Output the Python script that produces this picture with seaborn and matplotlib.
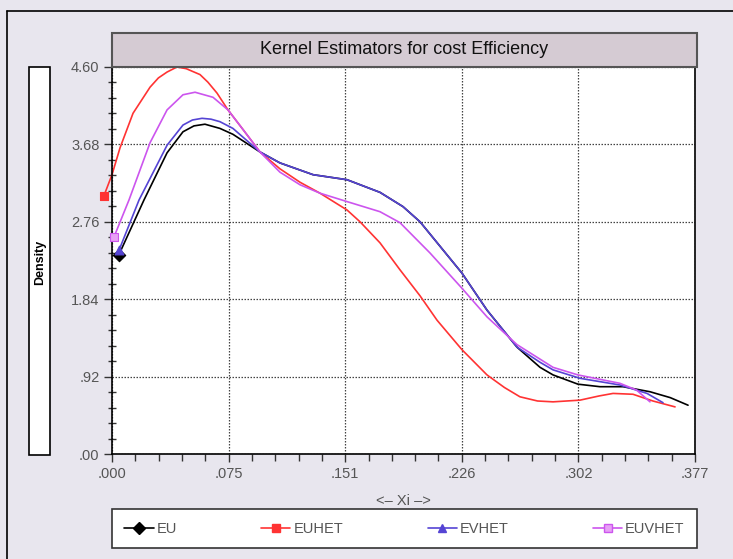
import pandas as pd
import seaborn as sns
import matplotlib.pyplot as plt
from matplotlib.patches import Rectangle
from matplotlib.lines import Line2D
from matplotlib.legend_handler import HandlerLine2D
from matplotlib.ticker import MultipleLocator

# Kernel density curves
eu_x = [0.0045, 0.0207, 0.0356, 0.0459, 0.0530, 0.0601, 0.0698, 0.0782, 0.0957, 0.1086,
        0.130, 0.152, 0.1733, 0.1882, 0.1992, 0.2263, 0.2425, 0.2619, 0.2768, 0.2852,
        0.3013, 0.3155, 0.3304, 0.3479, 0.3610, 0.3725]
eu_y = [2.37, 3.02, 3.58, 3.83, 3.90, 3.92, 3.87, 3.80, 3.59, 3.46,
        3.32, 3.26, 3.11, 2.94, 2.76, 2.15, 1.71, 1.27, 1.03, 0.94,
        0.83, 0.80, 0.80, 0.74, 0.67, 0.58]

euhet_x = [-0.0052, 0.000, 0.0052, 0.0136, 0.0246, 0.030, 0.0356, 0.042, 0.048, 0.0569,
           0.062, 0.0679, 0.075, 0.0850, 0.0957, 0.1086, 0.1216, 0.1345, 0.152, 0.1604,
           0.1733, 0.1862, 0.1992, 0.2102, 0.2263, 0.2425, 0.2538, 0.2638, 0.2752, 0.2852,
           0.3026, 0.315, 0.324, 0.3369, 0.3498, 0.3641]
euhet_y = [3.07, 3.32, 3.64, 4.05, 4.36, 4.47, 4.54, 4.60, 4.58, 4.51,
           4.42, 4.29, 4.09, 3.85, 3.59, 3.39, 3.23, 3.10, 2.90, 2.76,
           2.51, 2.19, 1.88, 1.59, 1.24, 0.94, 0.79, 0.68, 0.63, 0.62,
           0.64, 0.69, 0.72, 0.71, 0.63, 0.56]

evhet_x = [0.0045, 0.0175, 0.0356, 0.0459, 0.0520, 0.0582, 0.0640, 0.0698, 0.0782, 0.0957,
           0.1086, 0.130, 0.152, 0.1733, 0.1882, 0.1992, 0.2263, 0.2425, 0.2619, 0.2768,
           0.2852, 0.3026, 0.3285, 0.346, 0.3563]
evhet_y = [2.42, 3.02, 3.67, 3.91, 3.97, 3.99, 3.98, 3.95, 3.87, 3.59,
           3.46, 3.32, 3.26, 3.11, 2.94, 2.76, 2.15, 1.71, 1.27, 1.09,
           1.00, 0.90, 0.82, 0.72, 0.61]

euvhet_x = [0.0013, 0.0110, 0.0246, 0.0356, 0.0459, 0.0537, 0.0653, 0.075, 0.0850, 0.0957,
            0.1086, 0.1216, 0.1345, 0.152, 0.1733, 0.1862, 0.2056, 0.2263, 0.2425, 0.2619,
            0.2852, 0.3013, 0.3285, 0.3392, 0.3479]
euvhet_y = [2.58, 3.02, 3.70, 4.09, 4.27, 4.30, 4.24, 4.09, 3.85, 3.59,
            3.35, 3.20, 3.10, 3.00, 2.88, 2.75, 2.39, 1.97, 1.63, 1.30,
            1.03, 0.94, 0.84, 0.76, 0.62]

series = ['EU', 'EUHET', 'EVHET', 'EUVHET']
colors = ['#000000', '#ff3333', '#5544d4', '#cc55ee']
markers = ['D', 's', '^', 's']

x_ticks = [0.0, 0.0754, 0.1508, 0.2262, 0.3016, 0.377]
x_labels = ['.000', '.075', '.151', '.226', '.302', '.377']
y_ticks = [0.0, 0.92, 1.84, 2.76, 3.68, 4.60]
y_labels = ['.00', '.92', '1.84', '2.76', '3.68', '4.60']

df = pd.concat([
    pd.DataFrame({'Xi': eu_x, 'Density': eu_y, 'series': 'EU'}),
    pd.DataFrame({'Xi': euhet_x, 'Density': euhet_y, 'series': 'EUHET'}),
    pd.DataFrame({'Xi': evhet_x, 'Density': evhet_y, 'series': 'EVHET'}),
    pd.DataFrame({'Xi': euvhet_x, 'Density': euvhet_y, 'series': 'EUVHET'}),
])

sns.set_style('ticks')
plt.rcParams['font.family'] = ['Liberation Sans', 'DejaVu Sans']

W, H = 733, 559
bg = '#e8e6ee'
fig = plt.figure(figsize=(W / 100, H / 100), dpi=100, facecolor=bg)
ax = fig.add_axes([112 / W, 1 - 454 / H, 583 / W, 387 / H])
ax.set_facecolor('white')

sns.lineplot(data=df, x='Xi', y='Density', hue='series', hue_order=series,
             palette=colors, sort=False, estimator=None, linewidth=1.2,
             legend=False, ax=ax)
for line in ax.lines:
    line.set_clip_on(False)

# marker at the start of each curve
first = df.groupby('series', sort=False).head(1)
for name, col, mk in zip(series, colors, markers):
    row = first[first['series'] == name]
    face = '#e7a0f5' if name == 'EUVHET' else col
    sns.scatterplot(x=row['Xi'], y=row['Density'], marker=mk, s=40, color=face,
                    edgecolor=col, linewidth=0.8, clip_on=False, zorder=5, ax=ax)

ax.set_xlim(0, 0.377)
ax.set_ylim(0, 4.60)
ax.set_xticks(x_ticks)
ax.set_xticklabels(x_labels)
ax.set_yticks(y_ticks)
ax.set_yticklabels(y_labels)
ax.xaxis.set_minor_locator(MultipleLocator(0.377 / 25))
ax.yaxis.set_minor_locator(MultipleLocator(0.184))
ax.tick_params(which='major', direction='out', length=6, width=1, color='#333',
               labelcolor='#555', labelsize=10.5, pad=3)
ax.tick_params(axis='y', which='minor', direction='inout', length=6, width=1, color='#333')
ax.tick_params(axis='x', which='minor', direction='out', length=5, width=1, color='#333')
ax.grid(True, which='major', color='#444', linestyle=(0, (1.2, 1.2)), linewidth=0.9)
for sp in ax.spines.values():
    sp.set_color('black')
    sp.set_linewidth(1.2)
ax.set_xlabel('<– Xi –>', color='#555', fontsize=10.5, labelpad=10)
ax.set_ylabel('')

# outer frame
fig.add_artist(Line2D([7 / W, 7 / W], [0, 1 - 11 / H], transform=fig.transFigure,
                      color='black', lw=1.2))
fig.add_artist(Line2D([7 / W, 1], [1 - 11 / H, 1 - 11 / H], transform=fig.transFigure,
                      color='black', lw=1.2))

# title box
fig.patches.append(Rectangle((112 / W, 1 - 67 / H), 585 / W, 34 / H, transform=fig.transFigure,
                             facecolor='#d5cbd3', edgecolor='#555', lw=1.5))
fig.text(404 / W, 1 - 50 / H, 'Kernel Estimators for cost Efficiency', ha='center',
         va='center', fontsize=13, color='#111')

# y label box
fig.patches.append(Rectangle((29 / W, 1 - 455 / H), 21 / W, 388 / H, transform=fig.transFigure,
                             facecolor='white', edgecolor='black', lw=1.2))
fig.text(40 / W, 1 - 262 / H, 'Density', ha='center', va='center', rotation=90,
         fontsize=9, fontweight='bold', color='black')


class StartMarker(HandlerLine2D):
    def get_xdata(self, legend, xdescent, ydescent, width, height, fontsize):
        return [-xdescent, -xdescent + width], [-xdescent]


handles = [Line2D([], [], color=c, marker=m, markersize=6, lw=1.2,
                  markerfacecolor=('#e7a0f5' if n == 'EUVHET' else c), markeredgecolor=c)
           for n, c, m in zip(series, colors, markers)]
leg = fig.legend(handles, series, loc='lower left', ncol=4, mode='expand',
                 bbox_to_anchor=(112 / W, 1 - 548 / H, 585 / W, 36 / H),
                 handler_map={Line2D: StartMarker()}, frameon=True, fancybox=False,
                 edgecolor='#333', facecolor='white', framealpha=1, borderaxespad=0,
                 handlelength=2.0, handletextpad=0.2, borderpad=0.85,
                 prop={'size': 10.5})
for t in leg.get_texts():
    t.set_color('#555')
leg.get_frame().set_linewidth(1.2)

plt.savefig('out.png', dpi=100, facecolor=bg)
